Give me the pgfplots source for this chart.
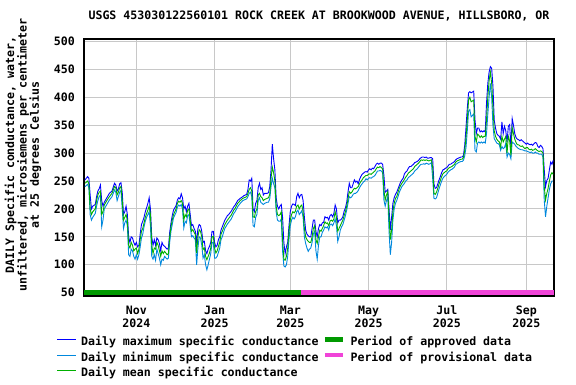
\documentclass[border=0pt]{standalone}
\usepackage{fontspec}
\setmainfont{DejaVu Sans Mono}
\usepackage{pgfplots}
\usepackage{pgfplotstable}
\pgfplotsset{compat=1.18}
\definecolor{cmax}{RGB}{0,0,255}
\definecolor{cmin}{RGB}{0,136,221}
\definecolor{cmean}{RGB}{0,176,0}
\definecolor{capp}{RGB}{0,153,0}
\definecolor{cprov}{RGB}{240,68,216}
\definecolor{cgrid}{RGB}{200,200,200}
\pgfplotstableread{
d mean max min
-101 246 252 240
-99 250 258 244
-98 245 255 238
-97 200 225 190
-96 190 200 180
-95 195 205 185
-93 200 208 192
-92 215 222 205
-91 225 232 215
-90 230 236 222
-89 232 243 225
-88 190 215 168
-87 195 205 180
-86 207 212 200
-84 215 220 208
-82 222 228 216
-80 228 232 222
-78 240 246 234
-77 238 243 230
-76 225 232 215
-75 230 236 222
-74 238 245 230
-73 240 247 233
-72 215 230 200
-71 180 190 165
-70 185 195 175
-69 190 205 180
-68 180 190 170
-67 135 150 118
-66 130 140 115
-65 140 150 128
-64 135 148 125
-63 125 140 115
-62 128 135 110
-61 130 140 118
-60 120 132 110
-59 128 135 118
-58 145 155 132
-57 160 172 148
-56 165 178 155
-55 175 185 168
-54 185 195 178
-53 192 202 185
-52 198 210 190
-51 205 220 195
-50 190 200 170
-49 135 150 115
-48 120 135 110
-47 130 145 118
-46 128 135 108
-45 140 148 128
-44 135 145 120
-43 125 138 112
-42 115 125 100
-41 125 140 110
-40 120 135 108
-39 124 133 115
-37 118 128 110
-36 120 130 112
-35 150 158 140
-34 168 175 160
-33 180 188 172
-32 190 198 184
-30 200 206 194
-29 210 216 203
-28 214 220 207
-27 212 218 205
-26 215 227 208
-25 210 220 200
-24 180 200 166
-23 190 205 178
-22 186 195 175
-21 198 205 188
-20 200 210 190
-19 180 190 170
-18 160 170 150
-17 163 172 152
-16 158 165 148
-15 154 160 145
-14 121 140 100
-13 150 165 130
-12 163 172 150
-11 160 170 148
-10 150 160 135
-9 127 140 112
-8 130 142 118
-7 115 125 100
-6 109 120 91
-5 115 128 100
-4 121 133 110
-3 130 140 120
-2 150 160 140
-1 151 160 140
0 130 140 112
1 121 132 112
2 125 135 115
3 133 145 122
4 140 150 130
5 155 162 145
6 160 168 150
7 166 174 158
8 172 180 165
10 180 188 173
11 183 190 176
13 189 196 182
15 198 204 192
16 201 207 195
18 210 215 204
20 215 219 210
22 219 222 215
23 220 224 216
25 222 226 218
26 228 235 222
27 235 252 228
28 238 250 230
29 232 255 222
30 186 200 170
31 185 195 168
32 195 210 185
33 200 215 190
34 225 238 215
35 228 246 220
36 222 235 212
37 220 238 210
38 215 225 208
39 217 228 210
41 219 228 212
42 220 229 212
43 226 240 218
44 255 270 240
45 275 316 255
46 265 290 245
47 250 270 238
48 205 220 195
49 190 205 180
50 188 200 178
51 190 205 178
52 195 208 182
53 145 185 125
54 110 140 98
55 108 120 96
56 115 132 100
57 130 140 115
58 160 170 145
59 180 195 170
60 190 205 180
61 195 209 185
62 193 208 182
63 196 206 186
64 205 222 195
65 207 228 198
66 200 220 190
67 205 225 193
68 207 226 197
69 195 215 185
70 165 185 150
71 150 162 138
72 145 155 130
73 142 152 124
74 140 150 128
75 140 150 130
76 150 165 140
77 165 180 155
78 170 180 160
79 145 160 125
80 138 150 110
81 150 165 135
82 162 172 150
83 160 170 150
84 165 175 158
85 170 176 162
86 177 186 168
87 174 184 166
88 175 185 168
89 170 180 162
90 178 188 172
91 180 190 173
92 178 186 170
93 182 192 175
94 195 207 182
95 185 200 170
96 160 175 142
97 165 180 150
98 170 180 162
99 175 182 168
100 180 186 172
101 188 196 180
102 195 202 188
103 205 212 198
104 218 230 210
105 231 246 222
106 228 238 220
107 230 238 222
108 234 245 226
109 237 252 228
110 236 248 228
111 238 250 230
112 240 245 233
113 245 253 238
114 249 258 242
115 252 262 245
116 256 264 248
117 258 266 250
118 260 267 254
119 260 266 252
120 262 270 255
121 263 272 256
122 262 270 255
123 264 273 257
124 266 272 258
125 268 276 260
126 272 280 264
127 275 282 268
128 274 280 268
129 276 282 269
130 274 282 268
131 272 280 265
132 234 260 216
133 216 230 205
134 225 232 215
135 231 235 222
136 186 200 160
137 145 162 118
138 162 185 140
139 195 210 180
140 210 220 200
141 219 226 210
142 222 230 215
143 230 236 222
144 237 242 230
145 242 248 235
146 246 252 240
147 249 255 243
148 253 263 246
149 257 266 250
150 260 268 252
151 264 273 256
152 266 276 258
153 268 276 260
154 270 278 262
155 272 280 264
156 276 283 268
157 278 284 270
158 280 285 272
159 282 287 275
160 285 290 278
161 288 292 280
162 287 293 280
163 288 293 281
164 287 292 280
165 288 293 282
166 287 291 281
167 286 291 280
168 287 292 281
169 288 292 283
170 275 290 255
171 228 245 219
172 226 237 218
173 230 238 220
174 237 245 228
175 245 252 236
176 251 258 243
177 258 265 250
178 263 270 255
179 265 271 258
180 267 273 260
181 268 274 262
182 272 277 266
183 274 280 268
184 275 280 270
185 276 282 271
186 278 283 273
187 280 285 275
188 284 288 280
189 286 290 281
190 287 291 283
191 288 292 284
192 289 293 285
193 289 293 285
194 292 296 287
195 305 314 295
196 328 346 310
197 360 380 340
198 395 408 375
199 400 410 378
200 392 408 365
202 395 411 370
203 330 360 305
204 320 335 302
205 334 345 318
206 332 345 320
207 328 338 318
208 331 340 320
209 328 338 318
210 330 340 320
211 330 338 318
212 360 390 335
213 400 425 370
214 430 445 400
215 445 455 425
216 425 452 400
217 383 420 350
218 340 359 326
219 330 345 322
220 325 335 318
221 322 332 317
222 320 330 315
223 311 325 305
224 330 356 312
225 320 335 308
226 325 348 310
227 330 340 318
228 300 320 293
229 330 348 300
230 322 351 298
231 296 310 290
232 346 362 320
233 335 350 318
234 325 335 316
235 319 328 312
236 315 325 310
237 315 324 308
238 313 322 307
239 312 324 306
240 313 322 306
241 310 320 305
242 308 318 304
243 310 316 304
244 310 318 303
245 307 316 302
246 306 315 301
247 307 316 302
248 305 314 300
249 306 317 300
250 308 319 302
251 306 318 300
252 304 312 300
253 303 310 298
254 304 314 298
255 303 312 298
256 300 308 293
257 240 270 215
258 216 240 186
259 228 251 205
260 237 255 220
261 250 270 235
262 261 284 245
263 265 280 250
264 262 287 250
}\sctable
\begin{document}
\begin{tikzpicture}
\useasboundingbox (0,0) rectangle (576pt,384pt);
\begin{axis}[
  at={(84pt,88pt)}, anchor=south west,
  width=470pt, height=257pt, scale only axis,
  xmin=-101.8, xmax=264.6, ymin=44, ymax=504.5,
  xtick={-61,0,59,120,181,243},
  xticklabels={{Nov\\2024},{Jan\\2025},{Mar\\2025},{May\\2025},{Jul\\2025},{Sep\\2025}},
  ytick={50,100,...,500},
  /pgf/number format/assume math mode=true,
  grid=major,
  major grid style={draw=cgrid, line width=1pt},
  major tick length=0pt,
  axis line style={line width=1.2pt},
  ticklabel style={font=\bfseries\fontsize{11.6}{13}\selectfont},
  xticklabel style={align=center, inner sep=0pt, yshift=-9.8pt},
  yticklabel style={inner sep=0pt, xshift=-9pt},
  title={USGS 453030122560101 ROCK CREEK AT BROOKWOOD AVENUE, HILLSBORO, OR},
  title style={font=\bfseries\fontsize{11.6}{13}\selectfont, anchor=base, at={(axis description cs:0.5,1)}, yshift=13.8pt, inner sep=0pt},
  legend columns=2,
  legend cell align=left,
  legend image code/.code={\draw[#1, line cap=butt] (0pt,3.5pt) -- (18.5pt,3.5pt);},
  legend style={draw=none, fill=none, inner sep=0pt, outer sep=0pt,
    at={(axis description cs:-0.0581,-0.1533)}, anchor=north west,
    font=\bfseries\fontsize{11.6}{13}\selectfont,
    nodes={text height=8.5pt, text depth=3pt, inner ysep=2pt, inner xsep=3pt},
    /tikz/every odd column/.append style={column sep=2pt},
    /tikz/every even column/.append style={column sep=1pt}},
]
\addplot[cmax, line width=0.9pt] table[x=d, y=max] {\sctable};
\addlegendentry{Daily maximum specific conductance}
\addplot[capp, line width=4.5pt] coordinates {(-101.8,50) (67.3,50)};
\addlegendentry{Period of approved data}
\addplot[cmin, line width=0.9pt] table[x=d, y=min] {\sctable};
\addlegendentry{Daily minimum specific conductance}
\addplot[cprov, line width=4.5pt] coordinates {(67.3,50) (264.6,50)};
\addlegendentry{Period of provisional data}
\addplot[cmean, line width=0.9pt] table[x=d, y=mean] {\sctable};
\addlegendentry{Daily mean specific conductance}
\end{axis}
\node[rotate=90, align=center, inner sep=0pt, font=\bfseries\fontsize{11.6}{12.4}\selectfont] at (23pt,229pt)
  {DAILY Specific conductance, water,\\unfiltered, microsiemens per centimeter\\at 25 degrees Celsius};
\end{tikzpicture}
\end{document}
